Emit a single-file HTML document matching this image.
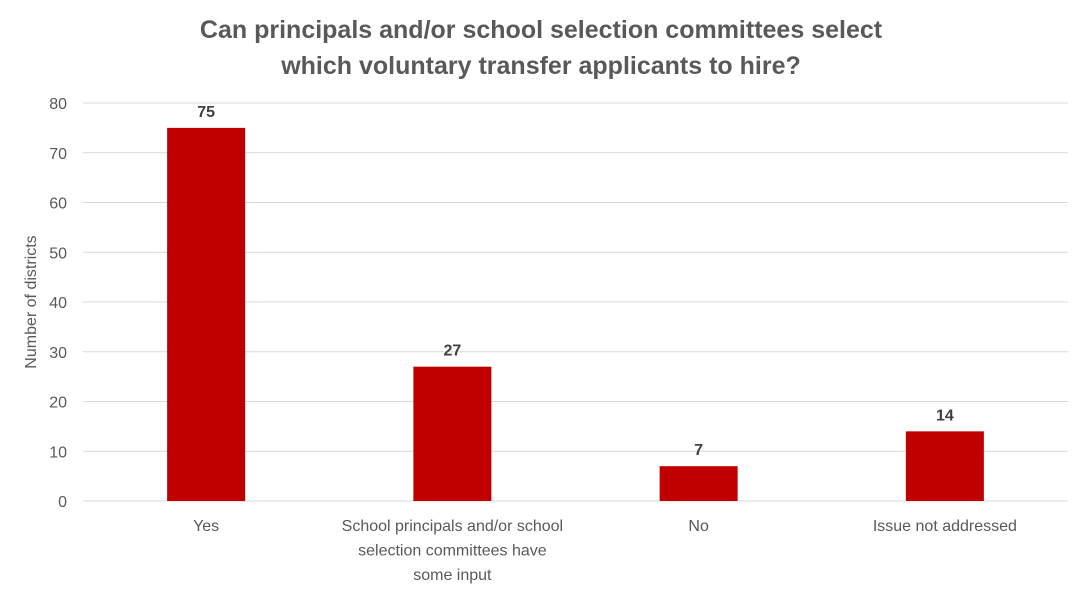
<!DOCTYPE html>
<html><head><meta charset="utf-8">
<style>
html,body{margin:0;padding:0;background:#fff;}
body{width:1081px;height:590px;overflow:hidden;font-family:"Liberation Sans",Arial,sans-serif;}
svg text{font-family:"Liberation Sans",Arial,sans-serif;}
</style></head>
<body>
<svg id="chart" width="1081" height="590" xmlns="http://www.w3.org/2000/svg">
<text x="541" y="38" text-anchor="middle" font-size="25" font-weight="bold" fill="#595959">Can principals and/or school selection committees select</text>
<text x="541" y="74" text-anchor="middle" font-size="25" font-weight="bold" fill="#595959">which voluntary transfer applicants to hire?</text>
<text transform="translate(36,302) rotate(-90)" text-anchor="middle" font-size="16" fill="#595959">Number of districts</text>
<g id="grid"></g><g id="bars"></g><g id="labels"></g>
</svg>
<script>
const categories=[["Yes"],["School principals and/or school","selection committees have","some input"],["No"],["Issue not addressed"]];
const values=[75,27,7,14];
const ticks=[0,10,20,30,40,50,60,70,80];
const NS="http://www.w3.org/2000/svg";
const x0=83,x1=1068,yTop=103,yBot=501,yMax=80;
const y=v=>yBot-(v/yMax)*(yBot-yTop);
const bw=(x1-x0)/categories.length;
const xc=i=>x0+bw*(i+0.5);
const svg=document.getElementById("chart");
const grid=document.getElementById("grid"),bars=document.getElementById("bars"),labels=document.getElementById("labels");
function mk(t,a,p){const e=document.createElementNS(NS,t);for(const k in a)e.setAttribute(k,a[k]);p.appendChild(e);return e;}
ticks.forEach(t=>{
  const l=mk("line",{x1:x0,x2:x1,y1:y(t),y2:y(t),stroke:"#d9d9d9","stroke-width":1},grid);
  
  
  const tx=mk("text",{x:67,y:y(t)+6,"text-anchor":"end","font-size":16,fill:"#595959"},grid);
  tx.textContent=t;
  
  
});
values.forEach((v,i)=>{
  const r=mk("rect",{x:xc(i)-39,y:y(v),width:78,height:yBot-y(v),fill:"#c00000"},bars);
  
  
  const t=mk("text",{x:xc(i),y:y(v)-11,"text-anchor":"middle","font-size":16,"font-weight":"bold",fill:"#404040"},labels);
  t.textContent=v;
  
  
  categories[i].forEach((line,j)=>{
    const c=mk("text",{x:xc(i),y:531+j*24.5,"text-anchor":"middle","font-size":16,fill:"#595959"},labels);
    c.textContent=line;
    
    
  });
});
</script>
</body></html>
